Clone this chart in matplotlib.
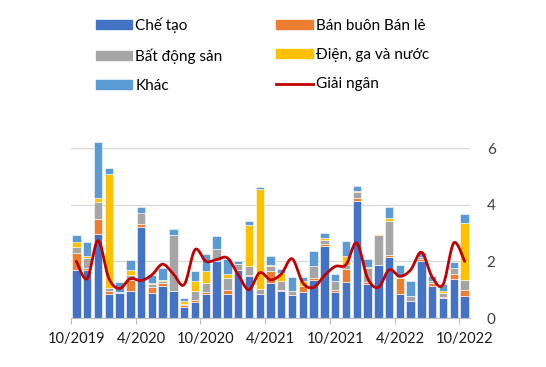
import numpy as np
import matplotlib
matplotlib.use("Agg")
import matplotlib.pyplot as plt
from matplotlib.lines import Line2D
from matplotlib.patches import Patch

plt.rcParams['font.family'] = ['Lato', 'Noto Sans', 'DejaVu Sans']

months = ["10/2019", "11/2019", "12/2019", "1/2020", "2/2020", "3/2020", "4/2020",
          "5/2020", "6/2020", "7/2020", "8/2020", "9/2020", "10/2020", "11/2020",
          "12/2020", "1/2021", "2/2021", "3/2021", "4/2021", "5/2021", "6/2021",
          "7/2021", "8/2021", "9/2021", "10/2021", "11/2021", "12/2021", "1/2022",
          "2/2022", "3/2022", "4/2022", "5/2022", "6/2022", "7/2022", "8/2022",
          "9/2022", "10/2022"]

che_tao = [1.71, 1.70, 2.98, 0.85, 0.90, 0.96, 3.21, 0.88, 1.12, 0.96, 0.38, 0.56, 0.85,
           2.00, 0.85, 1.70, 1.47, 0.86, 1.24, 0.94, 0.82, 0.91, 1.34, 2.55, 0.91, 1.28,
           4.12, 1.21, 1.88, 2.14, 0.86, 0.61, 2.00, 1.14, 0.71, 1.39, 0.78]
ban_buon = [0.58, 0.06, 0.52, 0.09, 0.00, 0.37, 0.11, 0.20, 0.10, 0.00, 0.07, 0.06, 0.07,
            0.00, 0.13, 0.00, 0.06, 0.00, 0.41, 0.06, 0.00, 0.21, 0.07, 0.06, 0.07, 0.45,
            0.12, 0.05, 0.00, 0.10, 0.55, 0.00, 0.10, 0.08, 0.04, 0.16, 0.22]
bat_dong_san = [0.21, 0.36, 0.58, 0.12, 0.03, 0.20, 0.38, 0.11, 0.10, 1.96, 0.05, 0.34, 0.30,
                0.43, 0.43, 0.20, 0.29, 0.16, 0.17, 0.29, 0.12, 0.00, 0.44, 0.15, 0.34, 0.15,
                0.20, 0.50, 1.06, 1.17, 0.05, 0.15, 0.05, 0.07, 0.13, 0.21, 0.35]
dien_ga_nuoc = [0.20, 0.08, 0.16, 4.02, 0.00, 0.17, 0.00, 0.05, 0.03, 0.00, 0.10, 0.36, 0.43,
                0.00, 0.14, 0.00, 1.45, 3.53, 0.06, 0.30, 0.00, 0.17, 0.00, 0.06, 0.00, 0.32,
                0.03, 0.04, 0.04, 0.12, 0.00, 0.00, 0.00, 0.00, 0.08, 0.00, 2.00]
khac = [0.24, 0.47, 1.97, 0.21, 0.35, 0.35, 0.22, 0.29, 0.43, 0.22, 0.10, 0.35, 0.62,
        0.47, 0.54, 0.10, 0.14, 0.07, 0.30, 0.14, 0.50, 0.16, 0.53, 0.18, 0.24, 0.53,
        0.18, 0.29, 0.00, 0.39, 0.42, 0.56, 0.17, 0.21, 0.24, 0.22, 0.33]
giai_ngan = [2.00, 1.39, 2.73, 1.41, 1.04, 1.39, 1.32, 1.52, 1.90, 1.55, 1.18, 2.41, 2.00,
             2.06, 2.12, 1.53, 1.00, 1.60, 1.35, 1.55, 2.09, 1.24, 1.08, 1.50, 1.82, 1.88,
             2.65, 1.41, 1.08, 1.70, 1.47, 1.70, 2.32, 1.44, 1.18, 2.65, 2.00]

series = [("Chế tạo", che_tao, "#4472C4"),
          ("Bán buôn Bán lẻ", ban_buon, "#ED7D31"),
          ("Bất động sản", bat_dong_san, "#A5A5A5"),
          ("Điện, ga và nước", dien_ga_nuoc, "#FFC000"),
          ("Khác", khac, "#5B9BD5")]


def smooth(x, y, steps=20, t=0.5):
    # cardinal spline through the points, like Excel's smoothed line
    x = np.asarray(x, float)
    y = np.asarray(y, float)
    px = np.concatenate([[x[0]], x, [x[-1]]])
    py = np.concatenate([[y[0]], y, [y[-1]]])
    xs, ys = [], []
    s = np.linspace(0, 1, steps, endpoint=False)
    for i in range(1, len(px) - 2):
        m1x, m1y = t * (px[i + 1] - px[i - 1]), t * (py[i + 1] - py[i - 1])
        m2x, m2y = t * (px[i + 2] - px[i]), t * (py[i + 2] - py[i])
        h00 = 2 * s**3 - 3 * s**2 + 1
        h10 = s**3 - 2 * s**2 + s
        h01 = -2 * s**3 + 3 * s**2
        h11 = s**3 - s**2
        xs.append(h00 * px[i] + h10 * m1x + h01 * px[i + 1] + h11 * m2x)
        ys.append(h00 * py[i] + h10 * m1y + h01 * py[i + 1] + h11 * m2y)
    xs.append([x[-1]])
    ys.append([y[-1]])
    return np.concatenate(xs), np.concatenate(ys)


fig = plt.figure(figsize=(5.46, 3.67), dpi=100)
ax = fig.add_axes([71 / 546, 49 / 367, 399 / 546, 170 / 367])

x = np.arange(len(months))
bottom = np.zeros(len(months))
for name, vals, col in series:
    ax.bar(x, vals, width=0.78, bottom=bottom, color=col, edgecolor="white",
           linewidth=0.4, zorder=2, clip_on=False)
    bottom += np.array(vals)

sx, sy = smooth(x, giai_ngan)
ax.plot(sx, sy, color="#C00000", lw=2.0, zorder=3, solid_capstyle="round")

ax.set_xlim(-0.5, len(months) - 0.5)
ax.set_ylim(0, 6)
ax.set_yticks([0, 2, 4, 6])
ax.yaxis.tick_right()
ax.tick_params(axis="y", length=0, pad=12, labelsize=11, labelcolor="#404040")
ax.grid(axis="y", color="#D9D9D9", lw=1.0, zorder=0)
ax.set_axisbelow(True)

major = np.arange(-0.5, len(months), 6)
ax.set_xticks(major)
ax.set_xticklabels([])
ax.tick_params(axis="x", which="major", length=4, color="#BFBFBF")
lab_pos = x[::6]
ax.set_xticks(lab_pos, minor=True)
ax.set_xticklabels([months[i] for i in lab_pos], minor=True)
ax.tick_params(axis="x", which="minor", length=0, pad=10, labelsize=10.5,
               labelcolor="#1a1a1a")

for sp in ["top", "left", "right"]:
    ax.spines[sp].set_visible(False)
ax.spines["bottom"].set_color("#BFBFBF")
ax.spines["bottom"].set_zorder(4)

handles = [Patch(color=series[0][2]), Patch(color=series[2][2]), Patch(color=series[4][2]),
           Patch(color=series[1][2]), Patch(color=series[3][2]),
           Line2D([], [], color="#C00000", lw=2.0)]
labels = [series[0][0], series[2][0], series[4][0], series[1][0], series[3][0], "Giải ngân"]
fig.legend(handles, labels, ncol=2, loc="upper left", bbox_to_anchor=(0.15, 0.99),
           frameon=False, fontsize=11, handlelength=2.4, handleheight=0.5,
           handletextpad=0.2, columnspacing=3.5, labelspacing=1.0)

fig.savefig("out.png", dpi=100)
